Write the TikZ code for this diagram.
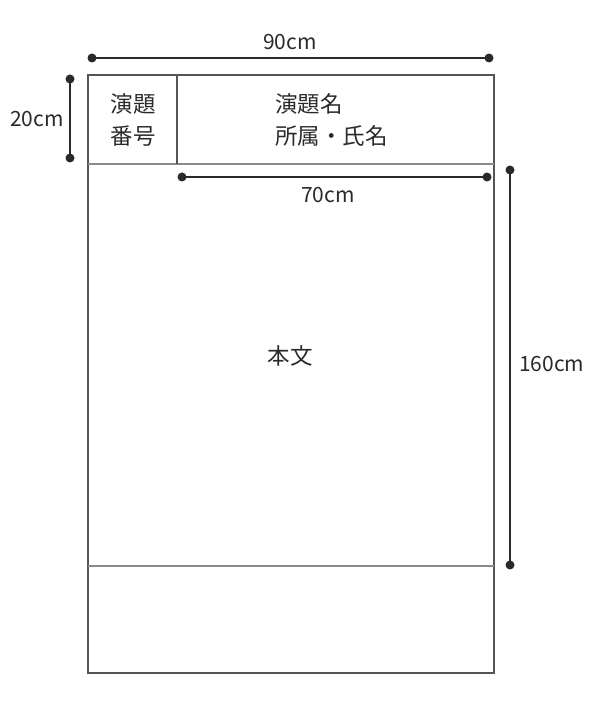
\documentclass[tikz,border=0pt]{standalone}
\usepackage{fontspec}
\setmainfont{Noto Sans CJK JP}
\definecolor{ink}{HTML}{2A2A2A}
\definecolor{frame}{HTML}{555555}
\definecolor{inner}{HTML}{8A8A8A}
\tikzset{
  lbl/.style={text=ink, font=\fontsize{21}{32}\selectfont, inner sep=0pt},
  jlbl/.style={text=ink, font=\fontsize{22.5}{32}\selectfont, inner sep=0pt, align=left},
  dimline/.style={draw=ink, line width=2.4pt},
  dotend/.style={fill=ink},
  framebox/.style={draw=frame, line width=2pt},
  innerline/.style={draw=inner, line width=1.6pt},
}
\begin{document}
\begin{tikzpicture}[x=1pt,y=-1pt]
\useasboundingbox (0,0) rectangle (608,708);
% frame
\coordinate (TL) at (88,75);
\coordinate (BR) at (494,673);
\draw[framebox] (TL) rectangle (BR);
\coordinate (hL) at (88,164);
\coordinate (hR) at (494,164);
\draw[innerline] (hL) -- (hR);
\coordinate (dT) at (177,75);
\coordinate (dB) at (177,164);
\draw[framebox, line width=1.6pt] (dT) -- (dB);
\coordinate (lL) at (88,566);
\coordinate (lR) at (494,566);
\draw[innerline] (lL) -- (lR);
% texts
\node[jlbl, align=center] (num) at (133,120) {演題\\番号};
\node[jlbl, anchor=west] (title) at (275,120) {演題名\\所属・氏名};
\node[jlbl] (body) at (290,356) {本文};
% 90cm
\coordinate (a1) at (92,58);
\coordinate (a2) at (489,58);
\draw[dimline] (a1) -- (a2);
\fill[dotend] (a1) circle (4.5) (a2) circle (4.5);
\node[lbl] (t90) at (290,42) {90cm};
% 20cm
\coordinate (b1) at (70,79);
\coordinate (b2) at (70,158);
\draw[dimline] (b1) -- (b2);
\fill[dotend] (b1) circle (4.5) (b2) circle (4.5);
\node[lbl, anchor=east] (t20) at (64,119) {20cm};
% 70cm
\coordinate (c1) at (182,177);
\coordinate (c2) at (487,177);
\draw[dimline] (c1) -- (c2);
\fill[dotend] (c1) circle (4.5) (c2) circle (4.5);
\node[lbl] (t70) at (328,195) {70cm};
% 160cm
\coordinate (d1) at (510,170);
\coordinate (d2) at (510,565);
\draw[dimline] (d1) -- (d2);
\fill[dotend] (d1) circle (4.5) (d2) circle (4.5);
\node[lbl, anchor=west] (t160) at (519,364) {160cm};
\end{tikzpicture}
\end{document}
